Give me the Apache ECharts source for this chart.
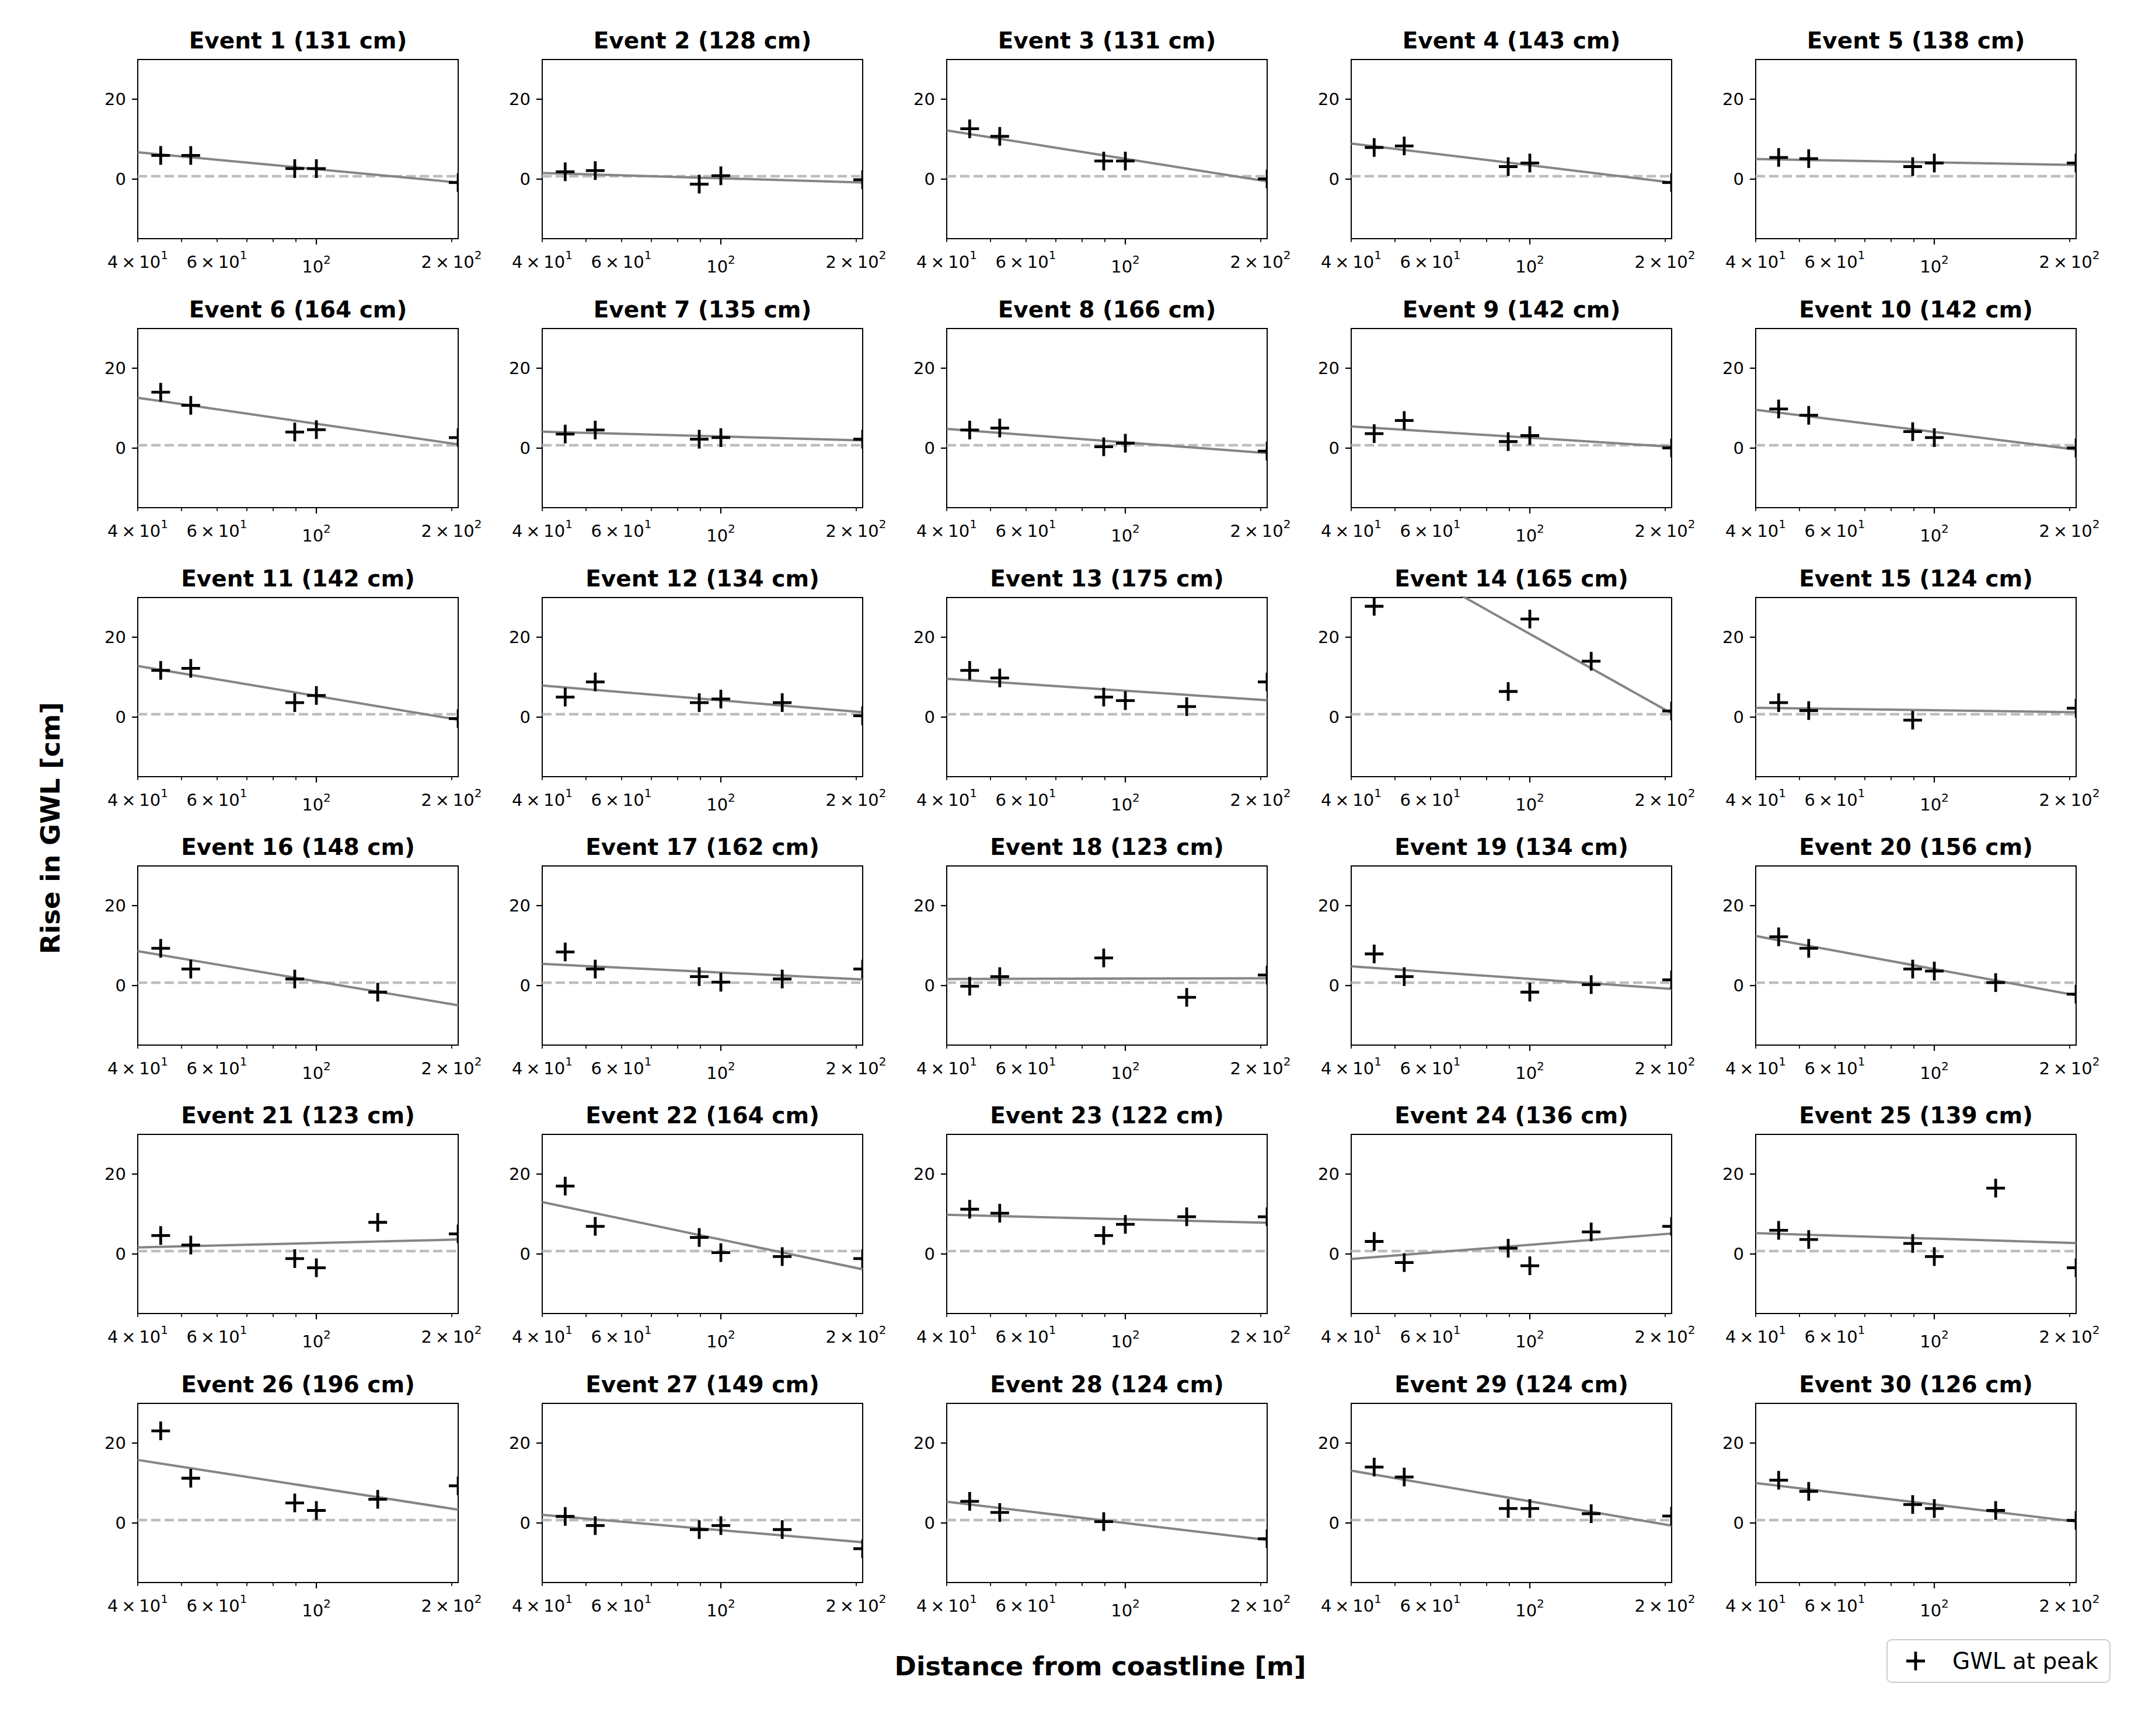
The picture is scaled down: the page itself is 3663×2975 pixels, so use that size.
<!DOCTYPE html>
<html>
<head>
<meta charset="utf-8">
<script src="https://cdn.jsdelivr.net/npm/echarts@6/dist/echarts.min.js"></script>
<style>
html,body{margin:0;padding:0;background:#fff;}
#chart{width:3663px;height:2975px;}
</style>
</head>
<body>
<div id="chart"></div>
<script>
// ---------------- data ----------------
const distances = [45, 52.5, 89.5, 100, 137, 207];           // well distances from coastline [m]
const peakLevels = [131,128,131,143,138,164,135,166,142,142,142,134,175,165,124,148,162,123,134,156,123,164,122,136,139,196,149,124,124,126];
// rise in GWL [cm] per event at each distance (null = no record)
const gwlRise = [
  [5.9, 5.9, 2.6, 2.6, null, -0.9],
  [1.8, 2.1, -1.3, 0.8, null, -0.2],
  [12.6, 10.7, 4.5, 4.5, null, 0.0],
  [7.9, 8.3, 3.1, 4.0, null, -0.9],
  [5.4, 5.1, 3.1, 4.0, null, 4.0],
  [14.0, 10.7, 4.0, 4.6, null, 2.6],
  [3.5, 4.5, 2.2, 2.6, null, 2.2],
  [4.5, 5.0, 0.3, 1.2, null, -0.8],
  [3.6, 6.9, 1.6, 3.1, null, 0.0],
  [9.8, 8.2, 4.1, 2.6, null, 0.0],
  [11.7, 12.2, 3.6, 5.4, null, -0.4],
  [5.0, 8.8, 3.6, 4.5, 3.6, 0.3],
  [11.7, 9.8, 5.0, 4.1, 2.6, 8.8],
  [27.8, null, 6.4, 24.6, 14.0, 1.5],
  [3.6, 1.6, -0.8, null, null, 2.2],
  [9.3, 4.1, 1.6, null, -1.7, null],
  [8.4, 4.1, 2.2, 0.8, 1.6, 4.1],
  [-0.2, 2.2, 6.9, null, -3.0, 2.6],
  [7.9, 2.2, null, -1.7, 0.2, 1.4],
  [12.2, 9.3, 4.1, 3.6, 0.7, -2.2],
  [4.6, 2.2, -1.2, -3.5, 7.9, 5.0],
  [17.0, 6.9, 4.1, 0.3, -0.7, -1.2],
  [11.2, 10.2, 4.6, 7.4, 9.3, 9.3],
  [3.1, -2.2, 1.4, -3.0, 5.5, 6.9],
  [5.9, 3.6, 2.6, -0.7, 16.5, -3.5],
  [23.1, 11.2, 5.0, 3.1, 5.9, 9.3],
  [1.6, -0.7, -1.7, -0.7, -1.7, -6.5],
  [5.4, 2.6, 0.3, null, null, -4.0],
  [14.0, 11.5, 3.6, 3.6, 2.3, 1.7],
  [10.7, 7.9, 4.6, 3.6, 3.1, 0.6]
];
// fitted trend line values at the left (40 m) and right (207 m) edges
const fitAtLeft  = [6.7, 1.5, 12.2, 8.9, 5.0, 12.6, 4.1, 4.8, 5.4, 9.6, 12.8, 7.9, 9.6, 46.0, 2.3, 8.6, 5.4, 1.6, 4.8, 12.4, 1.6, 13.0, 9.8, -1.3, 5.2, 15.8, 2.0, 5.3, 13.1, 10.0];
const fitAtRight = [-0.9, -0.9, -0.6, -0.9, 3.5, 0.9, 1.9, -1.3, 0.3, -0.4, -0.7, 1.2, 4.2, 0.9, 1.2, -5.0, 1.5, 1.8, -0.9, -2.5, 3.6, -3.9, 7.8, 5.1, 2.7, 3.3, -4.9, -4.3, -0.7, 0.3];
const baselineLevel = 0.7;
const xRange = [40, 207];
const yRange = [-15, 30];
const xMinorTicks = [40, 50, 60, 70, 80, 90, 200];
const xMinorLabelValues = [40, 60, 200];
const xMinorLabelTexts = ['{n|4\u2009×\u200910}{s|1}', '{n|6\u2009×\u200910}{s|1}', '{n|2\u2009×\u200910}{s|2}'];
const xMajorTicks = [100];
const xMajorLabelTexts = ['{n|10}{s|2}'];
const yTicks = [0, 20];
const seriesName = 'GWL at peak';

// ---------------- layout ----------------
const FONT = "'DejaVu Sans', sans-serif";
const colLeft = [236, 929, 1622, 2315, 3008];
const rowTop = [102, 563, 1024, 1484, 1944, 2405];
const plotW = 549, plotH = 307;
const plusPath = 'path://M13.6,0H18.4V13.6H32V18.4H18.4V32H13.6V18.4H0V13.6H13.6Z';
const markerHalf = 16, markerArm = 2.4;
const tickRich = {
  n: {fontSize: 29, fontFamily: FONT, color: '#000', lineHeight: 36, verticalAlign: 'bottom'},
  s: {fontSize: 20, fontFamily: FONT, color: '#000', lineHeight: 20, verticalAlign: 'top'}
};

function renderPlus(params, api) {
  const p = api.coord([api.value(0), api.value(1)]);
  return {type: 'group', children: [
    {type: 'rect', shape: {x: p[0] - markerArm, y: p[1] - markerHalf, width: 2 * markerArm, height: 2 * markerHalf}, style: {fill: '#000'}},
    {type: 'rect', shape: {x: p[0] - markerHalf, y: p[1] - markerArm, width: 2 * markerHalf, height: 2 * markerArm}, style: {fill: '#000'}}
  ]};
}

const grids = [], xAxes = [], yAxes = [], series = [], graphics = [];
for (let i = 0; i < gwlRise.length; i++) {
  const r = Math.floor(i / 5), c = i % 5;
  const left = colLeft[c], top = rowTop[r];
  grids.push({left: left, top: top, width: plotW, height: plotH, show: true,
    borderColor: '#000', borderWidth: 2, backgroundColor: 'rgba(0,0,0,0)', containLabel: false});
  const base = {type: 'log', logBase: 10, gridIndex: i, min: xRange[0], max: xRange[1],
    position: 'bottom', offset: 0, axisLine: {show: false, onZero: false}, splitLine: {show: false},
    minorTick: {show: false}, minorSplitLine: {show: false}};
  xAxes.push(Object.assign({}, base, {
    axisTick: {show: true, inside: false, length: 6, lineStyle: {color: '#000', width: 1.7}, customValues: xMinorTicks},
    axisLabel: {show: true, customValues: xMinorLabelValues, margin: 18, color: '#000', fontFamily: FONT, rich: tickRich,
      formatter: v => { const k = xMinorLabelValues.indexOf(Math.round(v)); return k >= 0 ? xMinorLabelTexts[k] : ''; }}
  }));
  xAxes.push(Object.assign({}, base, {
    axisTick: {show: true, inside: false, length: 10, lineStyle: {color: '#000', width: 2.2}, customValues: xMajorTicks},
    axisLabel: {show: true, customValues: xMajorTicks, margin: 26, color: '#000', fontFamily: FONT, rich: tickRich,
      formatter: v => { const k = xMajorTicks.indexOf(Math.round(v)); return k >= 0 ? xMajorLabelTexts[k] : ''; }}
  }));
  yAxes.push({type: 'value', gridIndex: i, min: yRange[0], max: yRange[1],
    axisLine: {show: false, onZero: false}, splitLine: {show: false},
    axisTick: {show: true, inside: false, length: 10, lineStyle: {color: '#000', width: 2.2}, customValues: yTicks},
    axisLabel: {show: true, customValues: yTicks, margin: 20, fontSize: 29, color: '#000', fontFamily: FONT}
  });
  series.push({type: 'line', xAxisIndex: 2 * i, yAxisIndex: i, silent: true, symbol: 'none', clip: true, z: 2,
    data: [[xRange[0], baselineLevel], [xRange[1], baselineLevel]],
    lineStyle: {color: '#bdbdbd', width: 4.5, type: [16, 7]}});
  series.push({type: 'line', xAxisIndex: 2 * i, yAxisIndex: i, silent: true, symbol: 'none', clip: true, z: 3,
    data: [[xRange[0], fitAtLeft[i]], [xRange[1], fitAtRight[i]]],
    lineStyle: {color: '#858585', width: 4}});
  const pts = [];
  distances.forEach((d, k) => { if (gwlRise[i][k] !== null) pts.push([d, gwlRise[i][k]]); });
  series.push({type: 'custom', name: seriesName, xAxisIndex: 2 * i, yAxisIndex: i, clip: true, z: 4,
    encode: {x: 0, y: 1}, itemStyle: {color: '#000'}, renderItem: renderPlus, data: pts});
  graphics.push({type: 'text', x: left + plotW / 2, y: top - 33,
    style: {text: 'Event ' + (i + 1) + ' (' + peakLevels[i] + ' cm)', font: 'bold 39px ' + FONT, fill: '#000',
      align: 'center', verticalAlign: 'middle'}});
}
graphics.push({type: 'text', x: 1885, y: 2855,
  style: {text: 'Distance from coastline [m]', font: 'bold 45px ' + FONT, fill: '#000', align: 'center', verticalAlign: 'middle'}});
graphics.push({type: 'text', x: 86, y: 1419, rotation: Math.PI / 2,
  style: {text: 'Rise in GWL [cm]', font: 'bold 45px ' + FONT, fill: '#000', align: 'center', verticalAlign: 'middle'}});

const chart = echarts.init(document.getElementById('chart'), null, {renderer: 'svg', width: 3663, height: 2975});
chart.setOption({
  animation: false,
  backgroundColor: '#fff',
  grid: grids, xAxis: xAxes, yAxis: yAxes, series: series,
  legend: {show: true, data: [{name: seriesName, icon: plusPath, itemStyle: {color: '#000'}}], left: 3233, top: 2810,
    orient: 'horizontal', itemWidth: 32, itemHeight: 32, symbolKeepAspect: true,
    padding: [17, 20, 17, 33], borderColor: '#cccccc', borderWidth: 2, borderRadius: 8, backgroundColor: '#fff',
    itemStyle: {color: '#000'},
    textStyle: {fontSize: 39, color: '#000', fontFamily: FONT, padding: [0, 0, 0, 42]}},
  graphic: graphics
});
</script>
</body>
</html>
